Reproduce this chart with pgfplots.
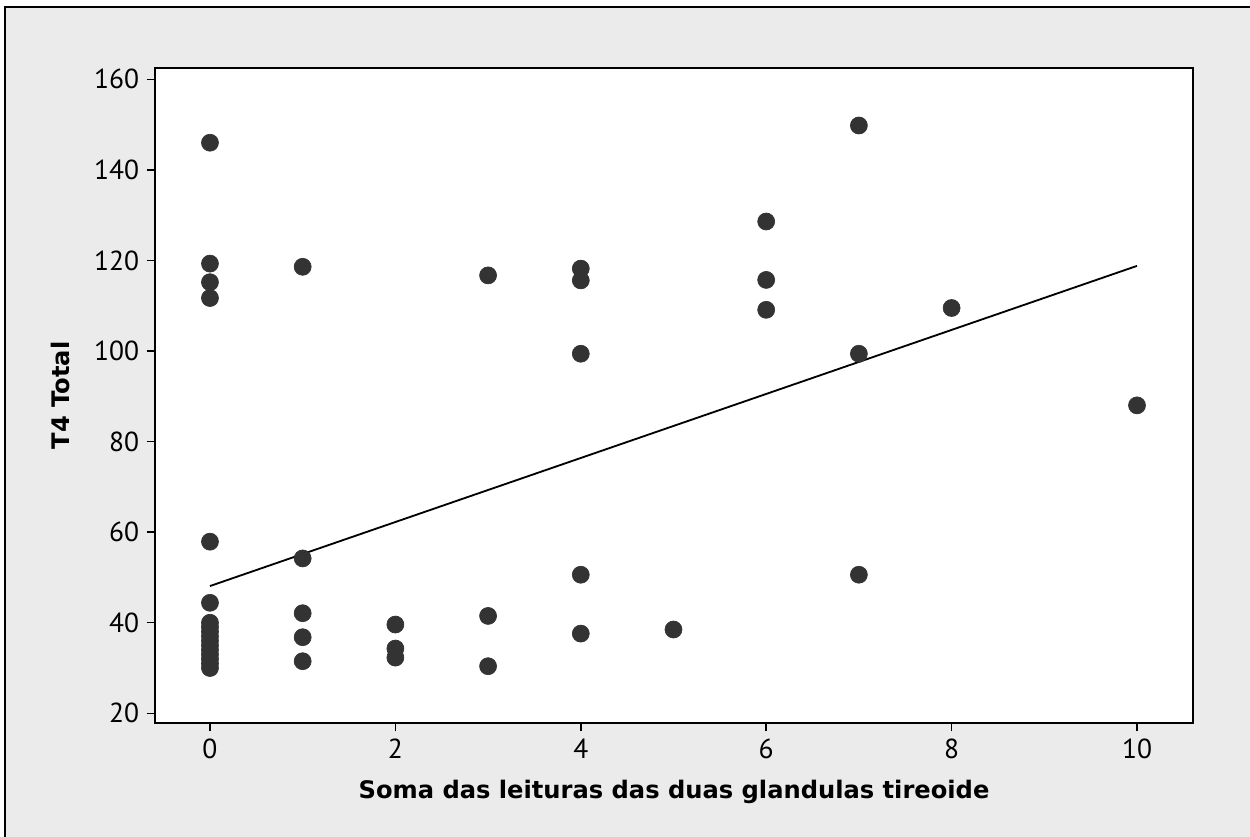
\documentclass[border=0pt]{standalone}
\usepackage{pgfplots}
\pgfplotsset{compat=1.18}
\usepackage{fontspec}
\setmainfont{PT Sans}
\newfontfamily\labelfont{DejaVu Sans}
\definecolor{panelgray}{HTML}{EBEBEB}
\definecolor{dotgray}{HTML}{333333}

\begin{document}
\begin{tikzpicture}
% panel behind the plot
\useasboundingbox (-93pt,-68.4pt) rectangle (657pt,433.8pt);
\fill[panelgray] (-90pt,-68.4pt) rectangle (657pt,429.6pt);
\draw[line width=0.9pt] (-90pt,-68.4pt) -- (-90pt,429.6pt) -- (657pt,429.6pt);

\begin{axis}[
  at={(0pt,0pt)}, anchor=south west,
  scale only axis,
  width=622.8pt, height=393pt,
  xmin=-0.593, xmax=10.604,
  ymin=17.86, ymax=162.5,
  xtick={0,2,4,6,8,10},
  ytick={20,40,...,160},
  axis line style={line width=0.9pt},
  axis background/.style={fill=white},
  tick align=outside,
  xtick pos=bottom, ytick pos=left,
  major tick length=5pt,
  tick style={line width=0.9pt, black},
  /pgf/number format/assume math mode=true,
  tick label style={font=\fontsize{16.5}{19}\selectfont},
  xticklabel style={yshift=-1pt},
  yticklabel style={xshift=-1pt},
  xlabel={Soma das leituras das duas glandulas tireoide},
  ylabel={T4 Total},
  label style={font=\labelfont\fontsize{14.5}{17}\selectfont\bfseries},
  xlabel style={at={(axis description cs:0.5,0)}, anchor=center, yshift=-41.4pt},
  ylabel style={at={(axis description cs:0,0.5)}, anchor=center, yshift=57pt},
]
\addplot[only marks, mark=*, mark size=5.1pt,
  mark options={fill=dotgray, draw=dotgray}] table {
x y
0 146.0
0 119.3
0 115.2
0 111.7
0 57.9
0 44.4
0 40.0
0 39.0
0 38.0
0 37.0
0 36.0
0 35.0
0 34.0
0 33.0
0 32.0
0 31.0
0 30.0
1 118.6
1 54.2
1 42.1
1 36.8
1 31.5
2 39.6
2 34.3
2 32.3
3 116.7
3 41.5
3 30.4
4 118.2
4 115.6
4 99.4
4 50.6
4 37.6
5 38.5
6 128.6
6 115.7
6 109.1
7 149.8
7 99.4
7 50.6
8 109.5
10 88.0
};
% fitted line
\addplot[black, line width=1.1pt] table {
x y
0 48.1
10 118.8
};
\end{axis}
\end{tikzpicture}
\end{document}
